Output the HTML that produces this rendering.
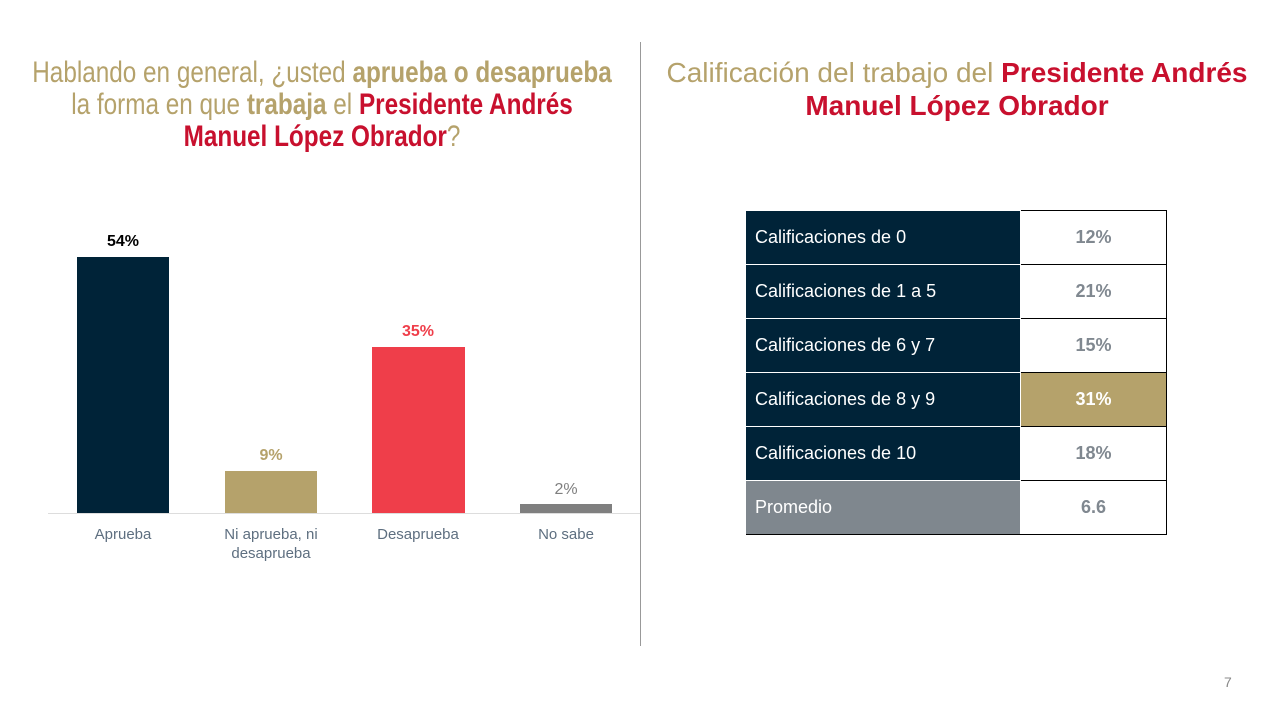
<!DOCTYPE html>
<html><head><meta charset="utf-8"><style>
body{margin:0;width:1280px;height:720px;background:#fff;position:relative;overflow:hidden;font-family:"Liberation Sans",sans-serif;}
.a{position:absolute}
.t{color:#b5a26b;font-size:27px;text-align:center;line-height:32px;white-space:nowrap}
.t b{font-weight:bold}
.r{color:#c8102e;font-weight:bold}
.bar{position:absolute}
.v{position:absolute;width:92px;text-align:center;font-size:16px;font-weight:bold}
.l{position:absolute;width:140px;text-align:center;font-size:15px;color:#5e6f80;line-height:19px}
table{position:absolute;left:746px;top:210px;border-collapse:collapse;font-size:18px}
td{height:53px;border:1px solid #000;padding:0}
td.k{width:265px;background:#002338;color:#fff;padding-left:8px;border-color:#fff #fff #fff #002338}
td.n{width:145px;text-align:center;font-weight:bold;color:#808890;border-color:#000}
</style></head><body>
<div class="a t" style="left:-78px;top:57px;width:800px;font-size:30px;line-height:32px;transform:scaleX(0.81);transform-origin:center">Hablando en general, ¿usted <b>aprueba o desaprueba</b><br>la forma en que <b>trabaja</b> el <span class="r">Presidente Andrés</span><br><span class="r">Manuel López Obrador</span>?</div>
<div class="a t" style="left:640px;top:56px;width:634px;font-size:28px;line-height:33px">Calificación del trabajo del <span class="r">Presidente Andrés</span><br><span class="r">Manuel López Obrador</span></div>
<div class="a" style="left:640px;top:42px;width:1px;height:604px;background:#999"></div>
<div class="a" style="left:48px;top:513px;width:592px;height:1px;background:#ddd"></div>
<div class="bar" style="left:77px;top:257px;width:92px;height:256px;background:#002338"></div>
<div class="bar" style="left:225px;top:471px;width:92px;height:42px;background:#b5a26b"></div>
<div class="bar" style="left:372px;top:347px;width:93px;height:166px;background:#ef3e4a"></div>
<div class="bar" style="left:520px;top:504px;width:92px;height:9px;background:#7f7f7f"></div>
<div class="v" style="left:77px;top:233px;color:#000">54%</div>
<div class="v" style="left:225px;top:447px;color:#b5a26b">9%</div>
<div class="v" style="left:372px;top:323px;color:#ef3e4a">35%</div>
<div class="v" style="left:520px;top:481px;color:#7f7f7f;font-weight:normal">2%</div>
<div class="l" style="left:53px;top:525px">Aprueba</div>
<div class="l" style="left:201px;top:525px">Ni aprueba, ni<br>desaprueba</div>
<div class="l" style="left:348px;top:525px">Desaprueba</div>
<div class="l" style="left:496px;top:525px">No sabe</div>
<table>
<tr><td class="k">Calificaciones de 0</td><td class="n">12%</td></tr>
<tr><td class="k">Calificaciones de 1 a 5</td><td class="n">21%</td></tr>
<tr><td class="k">Calificaciones de 6 y 7</td><td class="n">15%</td></tr>
<tr><td class="k">Calificaciones de 8 y 9</td><td class="n" style="background:#b5a26b;color:#fff">31%</td></tr>
<tr><td class="k">Calificaciones de 10</td><td class="n">18%</td></tr>
<tr><td class="k" style="background:#7f878e;border-left-color:#7f878e;border-bottom-color:#000">Promedio</td><td class="n">6.6</td></tr>
</table>
<div class="a" style="left:1224px;top:674px;font-size:14px;color:#888">7</div>
</body></html>
